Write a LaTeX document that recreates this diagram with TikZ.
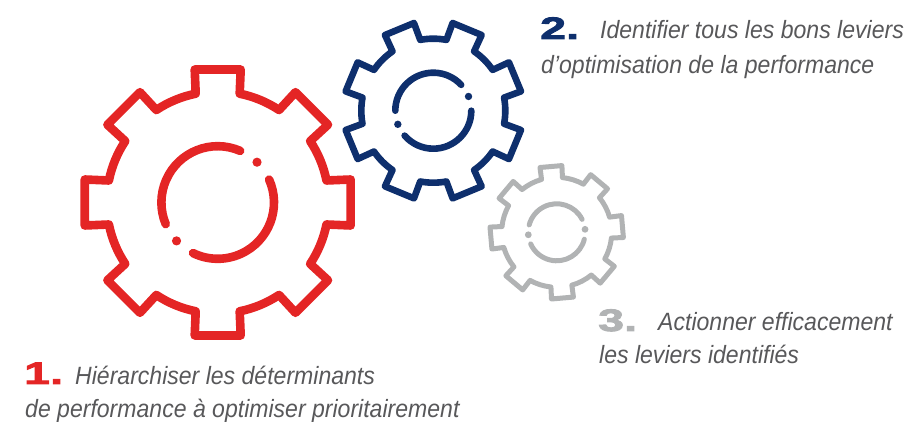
\documentclass[tikz,border=0pt]{standalone}
\usepackage{fontspec}
\setmainfont{Liberation Sans}
\newfontfamily\capfont[ItalicFont={Liberation Sans Italic},ItalicFeatures={FakeStretch=0.922}]{Liberation Sans}
\newfontfamily\numfont[FakeStretch=1.5,FakeBold=3]{Liberation Sans Bold}
\definecolor{cred}{HTML}{E42525}
\definecolor{cblue}{HTML}{0E2F6D}
\definecolor{cgrey}{HTML}{B1B3B4}
\definecolor{ctext}{HTML}{58585A}
\newcommand{\gearshape}[8]{%
% cx, cy(top-down), Rout, Rroot, half width outer, half width root, rot, colour/width style
\begin{scope}[shift={(#1,422-#2)},rotate=#7]
\pgfmathsetmacro{\dO}{atan(#5/#3)}
\pgfmathsetmacro{\rO}{veclen(#3,#5)}
\pgfmathsetmacro{\dR}{asin(#6/#4)}
\draw[#8,line join=round]
  (-\dR:#4) -- (-\dO:\rO) -- (\dO:\rO) -- (\dR:#4)
  \foreach \i in {1,...,7} {
    arc[start angle={(\i-1)*45+\dR},end angle={\i*45-\dR},radius=#4]
    -- ({\i*45-\dO}:\rO) -- ({\i*45+\dO}:\rO) -- ({\i*45+\dR}:#4)
  }
  arc[start angle={315+\dR},end angle={360-\dR},radius=#4] -- cycle;
\end{scope}}
\newcommand{\gearhub}[8]{%
% cx, cy, r, arc1 from, arc1 to, arc2 from, arc2 to, style
\begin{scope}[shift={(#1,422-#2)}]
\draw[#8,line cap=round] (#4:#3) arc[start angle=#4,end angle=#5,radius=#3];
\draw[#8,line cap=round] (#6:#3) arc[start angle=#6,end angle=#7,radius=#3];
\end{scope}}
\begin{document}
\begin{tikzpicture}[x=1pt,y=1pt,
  redline/.style={draw=cred,line width=8.6pt},
  blueline/.style={draw=cblue,line width=6.6pt},
  greyline/.style={draw=cgrey,line width=5pt},
  caption/.style={anchor=base west,inner sep=0pt,text=ctext,font=\capfont\itshape\fontsize{25}{28}\selectfont},
  numeral/.style={anchor=base west,inner sep=0pt,font=\numfont\fontsize{31}{32}\selectfont}]
\useasboundingbox (0,0) rectangle (906,422);
% red gear
\gearshape{217.7}{202.5}{133}{111}{23}{22}{0}{redline}
\gearhub{217.7}{202.5}{56.3}{66.5}{202.6}{24}{-116}{redline}
\fill[cred] (217.7,219.5)++(45.7:56.3) circle[radius=4.6];
\fill[cred] (217.7,219.5)++(223:56.3) circle[radius=4.6];
% blue gear
\gearshape{433.3}{110.7}{88.4}{72}{15.7}{15}{22.5}{blueline}
\gearhub{433.3}{110.7}{38}{42.8}{180}{0}{-139}{blueline}
\fill[cblue] (433.3,311.3)++(22:38) circle[radius=3.7];
\fill[cblue] (433.3,311.3)++(201:38) circle[radius=3.7];
% grey gear
\gearshape{556.7}{232.3}{66}{55}{11}{10.5}{5}{greyline}
\gearhub{556.7}{232.3}{28.5}{27}{165}{-14}{-156}{greyline}
\fill[cgrey] (556.7,189.7)++(6:28.5) circle[radius=3.4];
\fill[cgrey] (556.7,189.7)++(185:28.5) circle[radius=3.4];
% texts
\node[numeral,text=cred] (n1) at (24,38) {1.};
\node[caption] (t1a) at (75,37) {Hiérarchiser les déterminants};
\node[caption] (t1b) at (25,4) {de performance à optimiser prioritairement};
\node[numeral,text=cblue] (n2) at (540,383) {2.};
\node[caption] (t2a) at (600,383) {Identifier tous les bons leviers};
\node[caption] (t2b) at (541,348) {d’optimisation de la performance};
\node[numeral,text=cgrey] (n3) at (598,91) {3.};
\node[caption] (t3a) at (658,91) {Actionner efficacement};
\node[caption] (t3b) at (599,58) {les leviers identifiés};
\end{tikzpicture}
\end{document}
